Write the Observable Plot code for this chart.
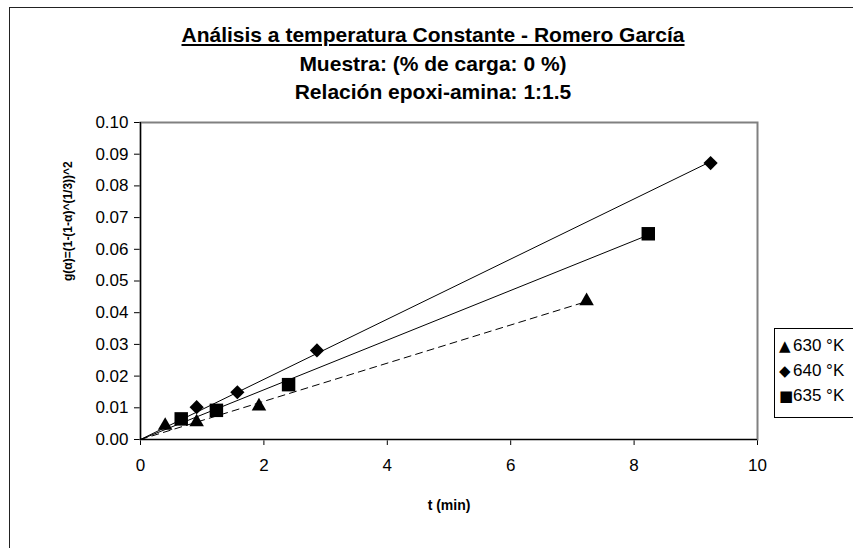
<!DOCTYPE html>
<html><head><meta charset="utf-8">
<script src="https://cdn.jsdelivr.net/npm/d3@7"></script>
<script src="https://cdn.jsdelivr.net/npm/@observablehq/plot@0.6"></script>
<style>
body{margin:0;overflow:hidden;background:#fff;font-family:"Liberation Sans",Arial,sans-serif;}
#wrap{position:relative;width:853px;height:548px;overflow:hidden;}
#frame{position:absolute;left:9px;top:7px;width:900px;height:600px;border:1.5px solid #222;box-sizing:border-box;}
.t{position:absolute;left:0;width:866px;text-align:center;font-weight:bold;font-size:21px;line-height:24px;}
#legend{position:absolute;left:774px;top:328px;width:110px;height:90px;border:1px solid #000;background:#fff;font-size:17px;box-sizing:border-box;}
#legend div{position:absolute;left:4px;white-space:nowrap;line-height:20px;}
#legend span.g{display:inline-block;width:14px;font-size:15px;font-family:"DejaVu Sans",sans-serif;}
#chart{position:absolute;left:0;top:0;}
</style></head>
<body><div id="wrap">
<div id="frame"></div>
<div id="chart"></div>
<div class="t" style="top:23px;text-decoration:underline;">Análisis a temperatura Constante - Romero García</div>
<div class="t" style="top:52px;">Muestra: (% de carga: 0 %)</div>
<div class="t" style="top:80px;">Relación epoxi-amina: 1:1.5</div>
<div id="legend"></div>
</div>
<script>
// Series: time t (min) and g(alpha)
const series = ["630 °K", "640 °K", "635 °K"];
const symbols = ["triangle", "diamond2", "square"];
const legendGlyphs = ["▲", "◆", "■"];
const t630 = [0.40, 0.91, 1.92, 7.23];
const g630 = [0.0044, 0.0055, 0.0105, 0.0437];
const t640 = [0.91, 1.57, 2.86, 9.24];
const g640 = [0.0102, 0.0149, 0.0281, 0.0872];
const t635 = [0.66, 1.23, 2.40, 8.23];
const g635 = [0.0065, 0.0092, 0.0173, 0.0649];
const xTicks = [0, 2, 4, 6, 8, 10];
const yTicks = [0, 0.01, 0.02, 0.03, 0.04, 0.05, 0.06, 0.07, 0.08, 0.09, 0.10];
const xLabel = "t (min)";
const yLabel = "g(α)=(1-(1-α)^(1/3))^2";

const ts = [t630, t640, t635], gs = [g630, g640, g635];
const pts = [];
const fits = [];
ts.forEach((tt, k) => {
  tt.forEach((t, i) => pts.push({t, g: gs[k][i], s: series[k], sym: symbols[k]}));
  // linear trend line through the origin (least squares)
  const slope = d3.sum(tt, (t, i) => t * gs[k][i]) / d3.sum(tt, t => t * t);
  const xmax = d3.max(tt);
  fits.push([{t: 0, g: 0, s: series[k]}, {t: xmax, g: slope * xmax, s: series[k]}]);
});

const chart = Plot.plot({
  width: 853, height: 548,
  marginLeft: 140, marginRight: 96, marginTop: 122, marginBottom: 109,
  style: {fontFamily: "'Liberation Sans', Arial, sans-serif", fontSize: "17px", background: "transparent", color: "#000"},
  x: {domain: [0, 10], ticks: xTicks, tickSize: 6, tickPadding: 13, label: null},
  y: {domain: [0, 0.1], ticks: yTicks, tickFormat: d3.format(".2f"), tickSize: 6, tickPadding: 6, label: null},
  marks: [
    Plot.frame({stroke: "#808080", strokeWidth: 2}),
    Plot.ruleX([0], {stroke: "#000", strokeWidth: 1.2}),
    Plot.ruleY([0], {stroke: "#000", strokeWidth: 1.2}),
    Plot.line(fits[0], {x: "t", y: "g", stroke: "#000", strokeWidth: 1, strokeDasharray: "7,5"}),
    Plot.line(fits[1], {x: "t", y: "g", stroke: "#000", strokeWidth: 1}),
    Plot.line(fits[2], {x: "t", y: "g", stroke: "#000", strokeWidth: 1}),
    Plot.dot(pts.filter(d => d.s === series[0]), {x: "t", y: "g", symbol: "triangle", r: 5.4, fill: "#000", stroke: "none"}),
    Plot.dot(pts.filter(d => d.s === series[1]), {x: "t", y: "g", symbol: "diamond2", r: 6.4, fill: "#000", stroke: "none"}),
    Plot.dot(pts.filter(d => d.s === series[2]), {x: "t", y: "g", symbol: "square", r: 7.6, fill: "#000", stroke: "none"}),
    Plot.text([xLabel], {frameAnchor: "bottom", dy: 70, fontWeight: "bold", fontSize: 14, fill: "#000"}),
    Plot.text([yLabel], {frameAnchor: "left", dx: -72, rotate: -90, fontWeight: "bold", fontSize: 12, fill: "#000"})
  ]
});
document.getElementById("chart").appendChild(chart);

const leg = document.getElementById("legend");
series.forEach((s, k) => {
  const d = document.createElement("div");
  d.style.top = (7 + k * 25) + "px";
  const g = document.createElement("span");
  g.className = "g";
  g.textContent = legendGlyphs[k];
  d.appendChild(g);
  d.appendChild(document.createTextNode(s));
  leg.appendChild(d);
});
</script>
</body></html>
